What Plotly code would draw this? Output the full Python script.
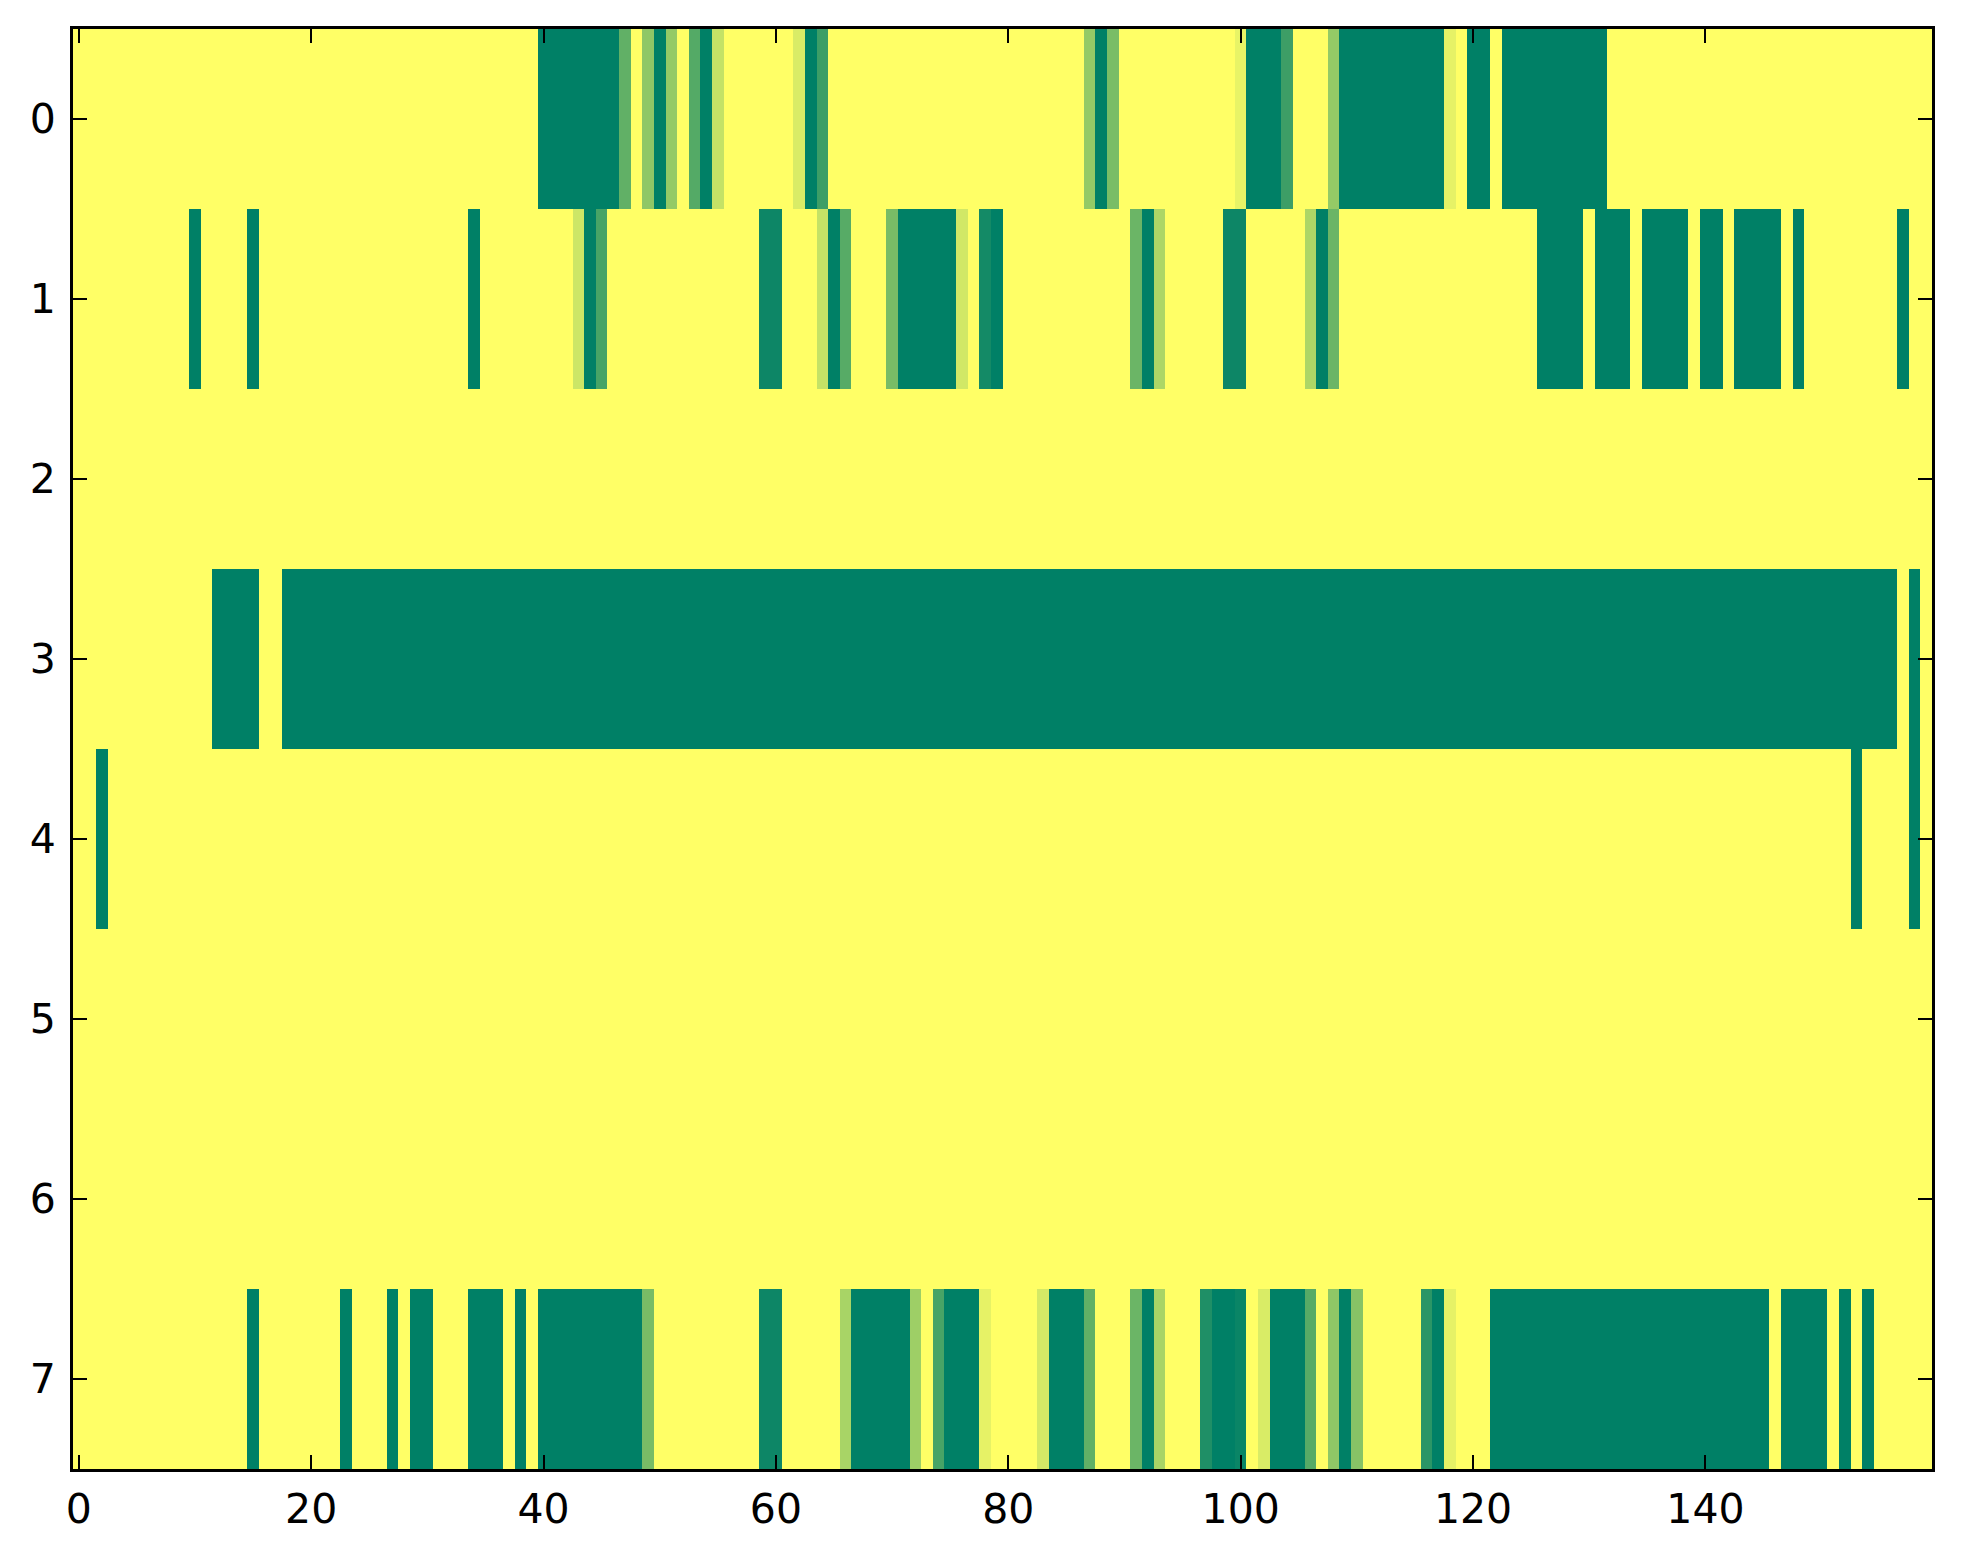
import numpy as np
import plotly.graph_objects as go

n_rows = 8
n_cols = 160

# dark green cells (value 0) as inclusive column spans, per row
row0_dark = [(40, 46), (50, 50), (54, 54), (63, 63), (88, 88), (101, 103),
             (109, 117), (120, 121), (123, 131)]
row1_dark = [(10, 10), (15, 15), (34, 34), (44, 44), (65, 65), (71, 75),
             (79, 79), (92, 92), (107, 107), (126, 129), (131, 133),
             (135, 138), (140, 141), (143, 146), (148, 148), (157, 157)]
row2_dark = []
row3_dark = [(12, 15), (18, 156), (158, 158)]
row4_dark = [(2, 2), (153, 153), (158, 158)]
row5_dark = []
row6_dark = []
row7_dark = [(15, 15), (23, 23), (27, 27), (29, 30), (34, 36), (38, 38),
             (40, 48), (67, 71), (75, 77), (84, 86), (92, 92), (98, 99),
             (103, 105), (109, 109), (117, 117), (122, 145), (147, 150),
             (152, 152), (154, 154)]

# in-between cells (column: value)
row0_mid = {47: 0.38, 49: 0.56, 51: 0.58, 53: 0.33, 55: 0.77, 62: 0.85,
            64: 0.24, 87: 0.58, 89: 0.48, 100: 0.91, 104: 0.24, 108: 0.58,
            118: 0.9}
row1_mid = {43: 0.8, 45: 0.28, 59: 0.05, 60: 0.05, 64: 0.77, 66: 0.34,
            70: 0.47, 76: 0.82, 78: 0.08, 91: 0.42, 93: 0.68, 99: 0.05,
            100: 0.05, 106: 0.68, 108: 0.42}
row7_mid = {49: 0.47, 59: 0.05, 60: 0.05, 66: 0.66, 72: 0.62, 74: 0.28,
            78: 0.9, 83: 0.83, 87: 0.38, 91: 0.42, 93: 0.66, 97: 0.12,
            100: 0.04, 102: 0.85, 106: 0.34, 108: 0.56, 110: 0.53,
            116: 0.17, 118: 0.9}

dark_rows = [row0_dark, row1_dark, row2_dark, row3_dark,
             row4_dark, row5_dark, row6_dark, row7_dark]
mid_rows = {0: row0_mid, 1: row1_mid, 7: row7_mid}

x_ticks = [0, 20, 40, 60, 80, 100, 120, 140]
y_ticks = [0, 1, 2, 3, 4, 5, 6, 7]

z = np.ones((n_rows, n_cols))
for r, spans in enumerate(dark_rows):
    for a, b in spans:
        z[r, a:b + 1] = 0.0
for r, cells in mid_rows.items():
    for c, v in cells.items():
        z[r, c] = v

# matplotlib "summer"
summer = [[0.0, "rgb(0,128,102)"], [1.0, "rgb(255,255,102)"]]

fig = go.Figure(go.Heatmap(
    z=z,
    x=list(range(n_cols)),
    y=list(range(n_rows)),
    colorscale=summer,
    zmin=0, zmax=1,
    showscale=False,
))

axis_style = dict(
    showline=True, linecolor="black", linewidth=3, mirror="allticks",
    ticks="inside", ticklen=14, tickwidth=2, tickcolor="black",
    showgrid=False, zeroline=False,
    tickfont=dict(family="DejaVu Sans", size=41, color="black"),
)

fig.update_xaxes(range=[-0.5, n_cols - 0.5], tickvals=x_ticks,
                 ticklabelstandoff=2, **axis_style)
fig.update_yaxes(range=[n_rows - 0.5, -0.5], tickvals=y_ticks,
                 ticklabelstandoff=6, **axis_style)

# page body keeps its default 8px margin, so the figure is a bit smaller
fig.update_layout(
    width=1947, height=1548,
    margin=dict(l=65, r=23, t=21, b=87),
    paper_bgcolor="white", plot_bgcolor="white",
)

fig.write_html("out.html")
